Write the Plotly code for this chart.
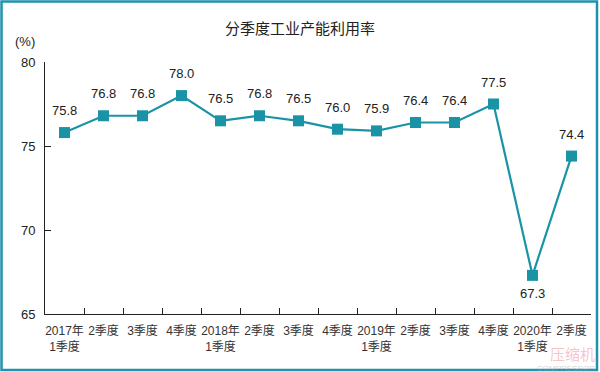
import plotly.graph_objects as go

categories = ["2017年<br>1季度", "2季度", "3季度", "4季度", "2018年<br>1季度", "2季度", "3季度",
              "4季度", "2019年<br>1季度", "2季度", "3季度", "4季度", "2020年<br>1季度", "2季度"]
values = [75.8, 76.8, 76.8, 78.0, 76.5, 76.8, 76.5, 76.0, 75.9, 76.4, 76.4, 77.5, 67.3, 74.4]
y_ticks = [65, 70, 75, 80]

teal = "#1a93a6"
font_fam = "Liberation Sans, Arial, Noto Sans CJK SC"
keys = [f"q{i}" for i in range(len(categories))]  # unique category keys

fig = go.Figure()
fig.add_trace(go.Scatter(
    x=keys, y=values, mode="lines+markers",
    line=dict(color=teal, width=2.2),
    marker=dict(symbol="square", size=11, color=teal),
    hoverinfo="skip", showlegend=False,
))

for k, v in zip(keys, values):
    below = v < 70
    fig.add_annotation(x=k, y=v, text=f"{v:.1f}", showarrow=False,
                       xanchor="center", yanchor="middle",
                       yshift=-18 if below else 22,
                       font=dict(size=13, color="#222", family=font_fam))

W, H = 600, 372
ml, mr, mt, mb = 45, 9, 62, 58
pw, ph = W - ml - mr, H - mt - mb

def px(x):
    return (x - ml) / pw

def py(y):
    return (H - mb - y) / ph

# frame border
fig.add_shape(type="rect", xref="paper", yref="paper",
              x0=px(1.5), x1=px(597), y0=py(370), y1=py(1.5),
              line=dict(color="#1c94ad", width=2.5), fillcolor="rgba(0,0,0,0)", layer="above")

def note(x, y, text, size, color, family):
    fig.add_annotation(xref="paper", yref="paper", x=px(x), y=py(y), text=text,
                       showarrow=False, xanchor="center", yanchor="middle",
                       font=dict(size=size, color=color, family=family))

note(300, 27, "分季度工业产能利用率", 15, "#222", "Noto Sans CJK SC")
note(25, 41, "(%)", 13, "#222", font_fam)
# watermark
note(572, 354, "压缩机", 15, "rgba(235,120,130,0.45)", "Noto Sans CJK SC")
note(566, 368, "COMPRESSOR", 8, "rgba(170,170,170,0.5)", font_fam)

fig.update_layout(
    width=W, height=H,
    margin=dict(l=ml, r=mr, t=mt, b=mb, autoexpand=False),
    paper_bgcolor="white", plot_bgcolor="white",
    font=dict(family=font_fam, color="#222"),
    xaxis=dict(
        type="category", categoryorder="array", categoryarray=keys,
        tickmode="array", tickvals=keys, ticktext=categories,
        range=[-0.5, len(categories) - 0.5],
        tickson="boundaries", tickangle=0,
        showgrid=False, zeroline=False, automargin=False,
        showline=True, linecolor="#222", linewidth=1,
        ticks="inside", ticklen=6, tickcolor="#222",
        tickfont=dict(size=12, color="#333", family=font_fam),
        ticklabelstandoff=6,
    ),
    yaxis=dict(
        range=[65, 80], tickvals=y_ticks, automargin=False,
        showgrid=False, zeroline=False,
        showline=True, linecolor="#222", linewidth=1,
        ticks="inside", ticklen=6, tickcolor="#222",
        tickfont=dict(size=13, color="#222", family=font_fam),
        ticklabelstandoff=6,
    ),
)

fig.write_html("out.html", config={"displayModeBar": False},
               post_script="document.body.style.margin='0';document.body.style.overflow='hidden';")
